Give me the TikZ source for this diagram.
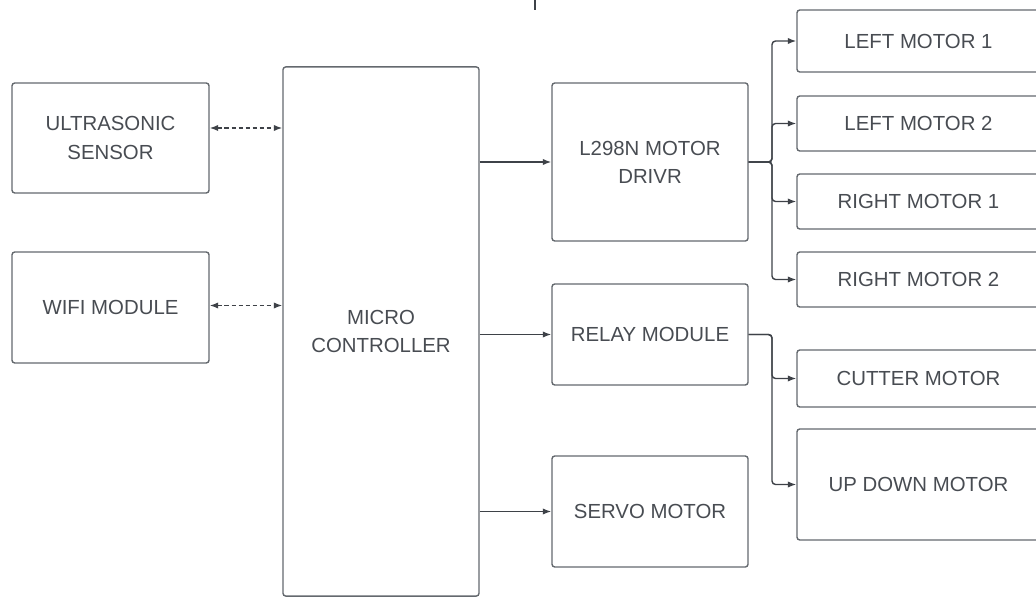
\documentclass[tikz,border=0pt]{standalone}
\usepackage{fontspec}
\setmainfont{Liberation Sans}
\usetikzlibrary{arrows.meta}

\definecolor{boxline}{RGB}{100,105,110}
\definecolor{labeltext}{RGB}{72,76,82}
\definecolor{linkline}{RGB}{62,66,72}

\tikzset{
  block/.style={draw=boxline, line width=1pt, rounded corners=2pt, align=center,
    text=labeltext, font=\fontsize{14.5}{20}\selectfont, inner sep=0pt},
  link/.style={draw=linkline, line width=1pt, rounded corners=2.5pt,
    -{Latex[length=6pt,width=4.5pt]}},
  duplex/.style={draw=linkline, line width=1pt, densely dashed,
    {Latex[length=6pt,width=4.5pt]}-{Latex[length=6pt,width=4.5pt]}}
}

\begin{document}
\begin{tikzpicture}[x=0.025cm, y=-0.025cm]
\useasboundingbox (0,0) rectangle (1036,597);

\node[block, minimum width=4.925cm, minimum height=2.75cm] (ultra) at (110.5,138) {ULTRASONIC\\SENSOR};
\node[block, minimum width=4.925cm, minimum height=2.775cm] (wifi) at (110.5,307.5) {WIFI MODULE};
\node[block, minimum width=4.9cm, minimum height=13.225cm] (mcu) at (381,331.5) {MICRO\\CONTROLLER};

\node[block, minimum width=4.9cm, minimum height=3.95cm] (driver) at (650,162) {L298N MOTOR\\DRIVR};
\node[block, minimum width=4.9cm, minimum height=2.525cm] (relay) at (650,334.5) {RELAY MODULE};
\node[block, minimum width=4.9cm, minimum height=2.775cm] (servo) at (650,511.5) {SERVO MOTOR};

\node[block, minimum width=6.075cm, minimum height=1.55cm] (lm1) at (918.5,41) {LEFT MOTOR 1};
\node[block, minimum width=6.075cm, minimum height=1.375cm] (lm2) at (918.5,123.5) {LEFT MOTOR 2};
\node[block, minimum width=6.075cm, minimum height=1.375cm] (rm1) at (918.5,201.5) {RIGHT MOTOR 1};
\node[block, minimum width=6.075cm, minimum height=1.375cm] (rm2) at (918.5,279.5) {RIGHT MOTOR 2};
\node[block, minimum width=6.075cm, minimum height=1.425cm] (cutter) at (918.5,378.5) {CUTTER MOTOR};
\node[block, minimum width=6.075cm, minimum height=2.775cm] (updown) at (918.5,484.5) {UP DOWN MOTOR};

\draw[duplex] ([yshift=0.25cm]ultra.east) -- ([yshift=0.25cm]ultra.east -| mcu.west);
\draw[duplex] ([yshift=0.05cm]wifi.east) -- ([yshift=0.05cm]wifi.east -| mcu.west);

\draw[link] (driver.west -| mcu.east) -- (driver.west);
\draw[link] (relay.west -| mcu.east) -- (relay.west);
\draw[link] (servo.west -| mcu.east) -- (servo.west);

\coordinate (dbus) at (772,162);
\foreach \m in {lm1,lm2,rm1,rm2}
  \draw[link] (driver.east) -- (dbus) |- (\m.west);

\coordinate (rbus) at (772,334.5);
\foreach \m in {cutter,updown}
  \draw[link] (relay.east) -- (rbus) |- (\m.west);

\draw[linkline, line width=1.5pt] (535,0) -- (535,10);
\end{tikzpicture}
\end{document}
